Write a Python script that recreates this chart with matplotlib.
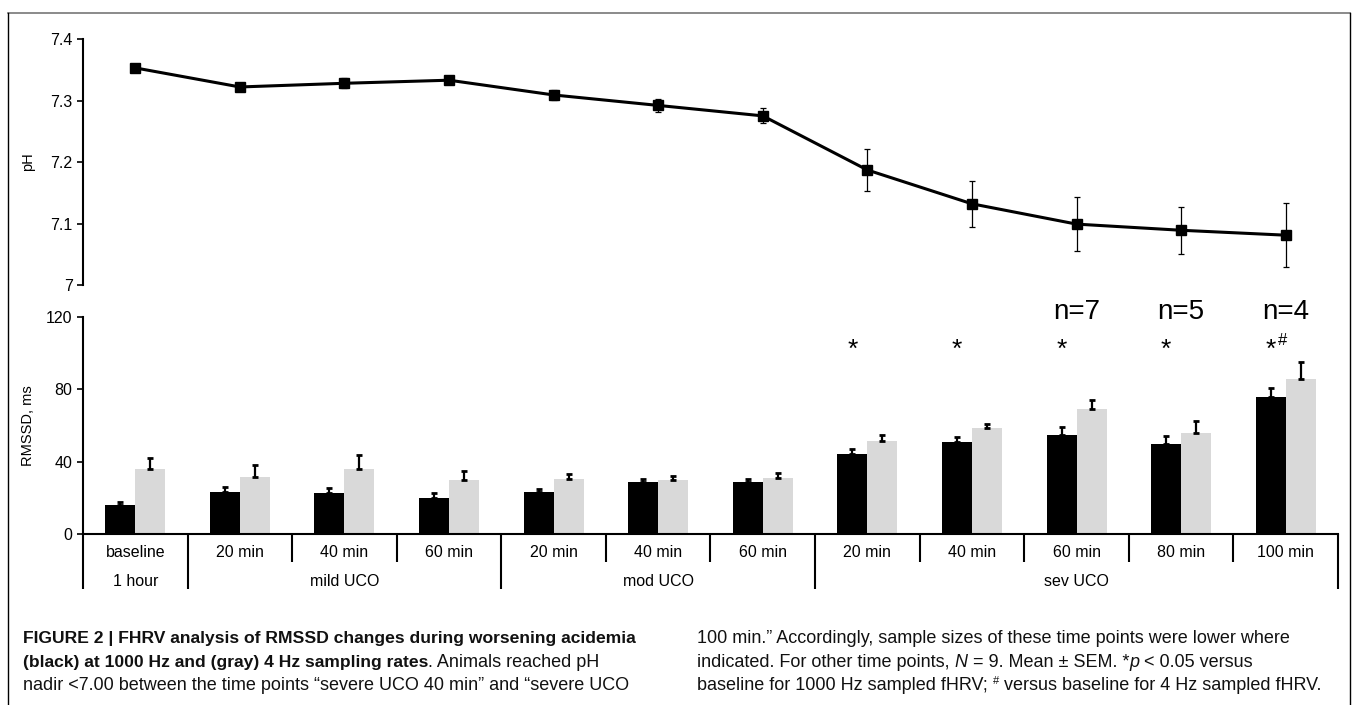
import numpy as np
import matplotlib
matplotlib.use('Agg')
import matplotlib.pyplot as plt
from matplotlib.lines import Line2D
from matplotlib.transforms import blended_transform_factory

plt.rcParams['font.family'] = ['Liberation Sans', 'DejaVu Sans']

# data
time_labels = ['baseline', '20 min', '40 min', '60 min', '20 min', '40 min', '60 min',
               '20 min', '40 min', '60 min', '80 min', '100 min']
groups = ['1 hour', 'mild UCO', 'mod UCO', 'sev UCO']
group_bounds = [0, 1, 4, 7, 12]

ph = [7.353, 7.322, 7.328, 7.333, 7.309, 7.292, 7.275, 7.187, 7.132, 7.099, 7.089, 7.081]
ph_err = [0.006, 0.006, 0.008, 0.004, 0.008, 0.010, 0.012, 0.034, 0.037, 0.044, 0.038, 0.052]

rmssd_1000 = [16.0, 23.4, 22.6, 20.0, 23.4, 28.7, 28.9, 44.0, 51.0, 54.8, 49.8, 75.9]
err_1000 = [1.7, 2.6, 2.8, 2.6, 1.6, 1.9, 1.6, 3.0, 2.4, 4.2, 4.2, 4.7]
rmssd_4 = [36.0, 31.7, 36.0, 30.0, 30.4, 30.0, 31.0, 51.4, 58.6, 69.0, 55.8, 85.6]
err_4 = [6.0, 6.3, 7.6, 5.0, 2.6, 2.0, 2.7, 3.3, 2.4, 5.0, 6.6, 9.4]

sig_1000 = ['', '', '', '', '', '', '', '*', '*', '*', '*', '*']
sig_4 = ['', '', '', '', '', '', '', '', '', '', '', '#']
n_labels = ['', '', '', '', '', '', '', '', '', 'n=7', 'n=5', 'n=4']

W, H = 1354, 705
fig = plt.figure(figsize=(W / 100, H / 100), dpi=100)

x = np.arange(len(time_labels))
bw = 0.287

# ---- top panel: pH
ax1 = fig.add_axes([83 / W, 1 - 285 / H, 1255 / W, 246 / H])
ax1.errorbar(x, ph, yerr=ph_err, color='black', lw=2.2, marker='s', ms=7,
             ecolor='black', elinewidth=0.9, capsize=2.5, capthick=0.9)
ax1.set_xlim(-0.5, len(x) - 0.5)
ax1.set_ylim(7.0, 7.4)
ax1.set_yticks([7.0, 7.1, 7.2, 7.3, 7.4])
ax1.set_yticklabels(['7', '7.1', '7.2', '7.3', '7.4'])
for s in ['top', 'right', 'bottom']:
    ax1.spines[s].set_visible(False)
ax1.spines['left'].set_linewidth(1.5)
ax1.tick_params(axis='x', bottom=False, labelbottom=False)
ax1.tick_params(axis='y', length=4, width=1.2, labelsize=11.5)
ax1.set_ylabel('pH', fontsize=10.5)
ax1.yaxis.set_label_coords(-0.038, 0.5)

# ---- bottom panel: RMSSD
ax2 = fig.add_axes([83 / W, 1 - 534 / H, 1255 / W, 217 / H])
ax2.bar(x - bw / 2, rmssd_1000, bw, color='black', yerr=[np.zeros(len(x)), err_1000],
        error_kw=dict(ecolor='black', elinewidth=1.6, capsize=2.5, capthick=2))
ax2.bar(x + bw / 2, rmssd_4, bw, color='#d9d9d9', yerr=[np.zeros(len(x)), err_4],
        error_kw=dict(ecolor='black', elinewidth=1.6, capsize=2.5, capthick=2))
ax2.set_xlim(-0.5, len(x) - 0.5)
ax2.set_ylim(0, 120)
ax2.set_yticks([0, 40, 80, 120])
for s in ['top', 'right']:
    ax2.spines[s].set_visible(False)
ax2.spines['left'].set_linewidth(1.5)
ax2.spines['bottom'].set_linewidth(1.5)
ax2.tick_params(axis='y', length=4, width=1.2, labelsize=11.5)
ax2.tick_params(axis='x', bottom=False, labelbottom=False)
ax2.set_ylabel('RMSSD, ms', fontsize=10.5)
ax2.yaxis.set_label_coords(-0.038, 0.5)

# significance marks and sample sizes
for i in x:
    if sig_1000[i]:
        ax2.text(i - bw / 2, 102, sig_1000[i], ha='center', va='center', fontsize=19)
    if sig_4[i]:
        ax2.text(i - bw / 2 + 0.11, 107, sig_4[i], ha='center', va='center', fontsize=12)
    if n_labels[i]:
        ax2.text(i, 123, n_labels[i], ha='center', va='center', fontsize=20, clip_on=False)

# two-row category axis
tr = blended_transform_factory(ax2.transData, ax2.transAxes)
for i, lab in enumerate(time_labels):
    ax2.text(i, -0.083, lab, transform=tr, ha='center', va='center', fontsize=11.5)
for b in range(len(time_labels) + 1):
    low = -0.253 if b in group_bounds else -0.129
    ax2.plot([b - 0.5, b - 0.5], [0, low], transform=tr, color='black', lw=1.5,
             clip_on=False, solid_capstyle='butt')
for g, lab in enumerate(groups):
    mid = (group_bounds[g] + group_bounds[g + 1] - 1) / 2
    ax2.text(mid, -0.217, lab, transform=tr, ha='center', va='center', fontsize=11.5)

# frame around the figure
fig.add_artist(Line2D([8 / W, 1350 / W], [1 - 13 / H, 1 - 13 / H], color='#777777', lw=1.2))
fig.add_artist(Line2D([8 / W, 8 / W], [1 - 13 / H, 0], color='black', lw=1.0))
fig.add_artist(Line2D([1350 / W, 1350 / W], [1 - 13 / H, 0], color='black', lw=1.0))

# caption, written run by run
renderer = fig.canvas.get_renderer()


def runs(x0, y0, parts):
    xp = x0
    for txt, kw in parts:
        opts = dict(fontsize=13, va='baseline', color='#111111')
        opts.update(kw)
        dy = opts.pop('dy', 0)
        t = fig.text(xp / W, 1 - (y0 - dy) / H, txt, **opts)
        xp += t.get_window_extent(renderer).width


B = dict(weight='bold', fontsize=12.6)
N = {}
runs(23, 643, [('FIGURE 2 | FHRV analysis of RMSSD changes during worsening acidemia', B)])
runs(23, 667, [('(black) at 1000 Hz and (gray) 4 Hz sampling rates', B),
               ('. Animals reached pH', N)])
runs(23, 690, [('nadir <7.00 between the time points \u201csevere UCO 40 min\u201d and \u201csevere UCO', N)])
runs(697, 643, [('100 min.\u201d Accordingly, sample sizes of these time points were lower where', N)])
runs(697, 667, [('indicated. For other time points, ', N), ('N', dict(style='italic')),
                (' = 9. Mean \u00b1 SEM. *', N), ('p', dict(style='italic')),
                (' < 0.05 versus', N)])
runs(697, 690, [('baseline for 1000 Hz sampled fHRV; ', N), ('#', dict(fontsize=8, dy=6)),
                (' versus baseline for 4 Hz sampled fHRV.', N)])

fig.savefig('out.png', dpi=100)
